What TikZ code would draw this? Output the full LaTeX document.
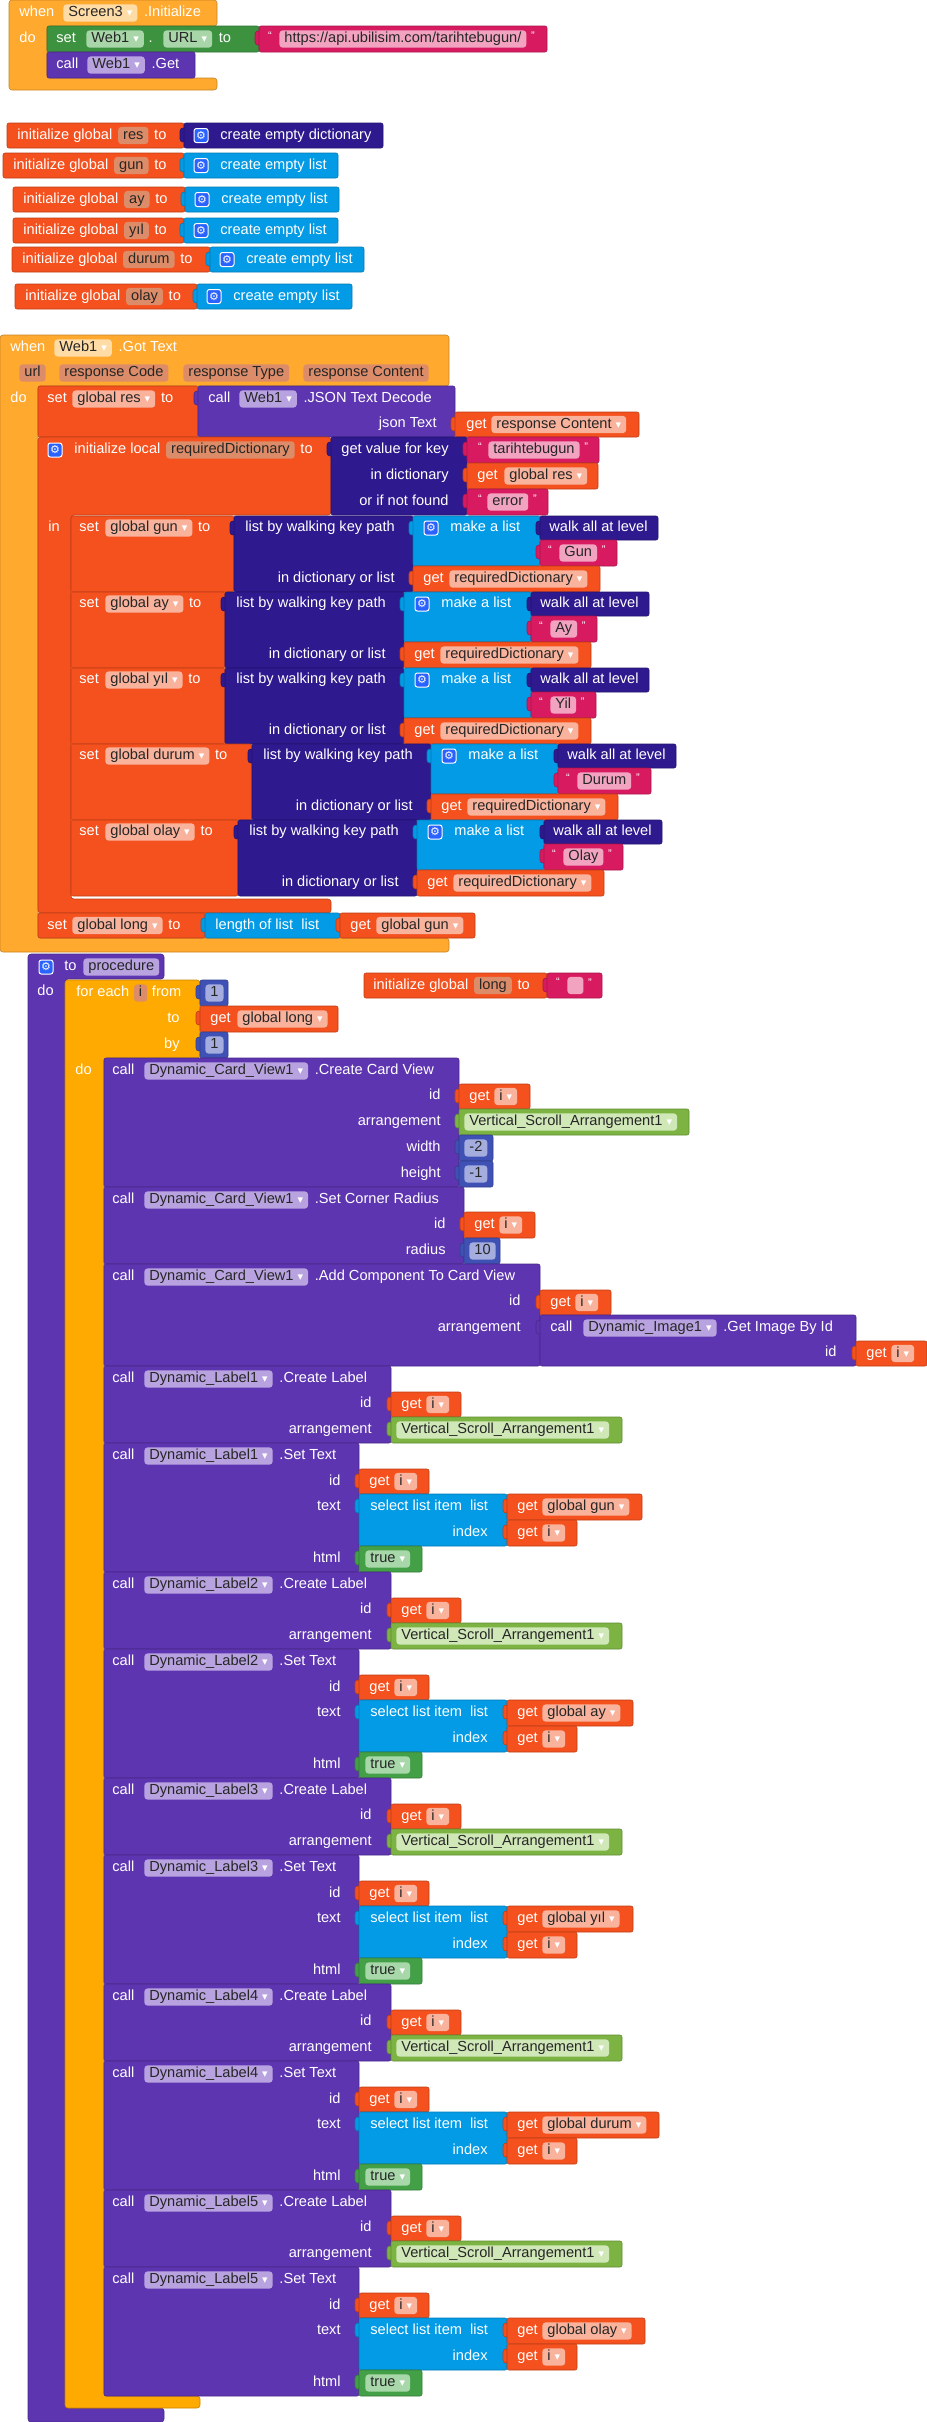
\documentclass[tikz,border=0pt]{standalone}
\usepackage{fontspec}
\setmainfont{Liberation Sans}
\newfontfamily\symf{DejaVu Sans}
\usetikzlibrary{positioning}

\definecolor{evtcol}{HTML}{FFA92E}
\definecolor{evtpil}{HTML}{FFDCA6}
\definecolor{loopcol}{HTML}{FFAA00}
\definecolor{varcol}{HTML}{F4511E}
\definecolor{varpil}{HTML}{F9B29B}
\definecolor{parpil}{HTML}{DC8C68}
\definecolor{txtcol}{HTML}{D81B60}
\definecolor{txtpil}{HTML}{F2A3C0}
\definecolor{dictcol}{HTML}{2E1A8E}
\definecolor{lstcol}{HTML}{039BE5}
\definecolor{proccol}{HTML}{5E35B1}
\definecolor{procpil}{HTML}{B8A3E0}
\definecolor{mathcol}{HTML}{3F51B5}
\definecolor{mathpil}{HTML}{A4ADDD}
\definecolor{logiccol}{HTML}{43A047}
\definecolor{logicpil}{HTML}{A8D8AA}
\definecolor{setcol}{HTML}{3D9240}
\definecolor{setpil}{HTML}{A8D6A9}
\definecolor{compcol}{HTML}{7CB342}
\definecolor{comppil}{HTML}{D0E8B8}
\definecolor{gearblue}{HTML}{2962FF}

\newcommand{\blockfont}{\fontsize{7.3}{8}\selectfont}
\tikzset{
  blkline/.style={fill=#1, draw=#1!78!black, line width=0.3pt},
  wtxt/.style={text=white, inner sep=0pt, font=\blockfont, text height=5.3pt, text depth=1.5pt},
  pill/.style={fill=#1, text=black!85, rounded corners=1.6pt, inner xsep=2.5pt, inner ysep=0pt,
    minimum height=8.6pt, text height=5.3pt, text depth=1.5pt, font=\blockfont},
  gearbox/.style={fill=gearblue, draw=white, line width=0.5pt, rounded corners=1.2pt, minimum size=7pt,
    inner sep=0pt, text=white, font=\symf\fontsize{5.5}{5.5}\selectfont},
  qt/.style={text=white, inner sep=0pt, font=\fontsize{5.5}{5}\selectfont},
}
% blocks
\newcommand{\blk}[5]{\filldraw[blkline=#1, rounded corners=1pt] (#2,#3) rectangle (#4,#5);}
\newcommand{\val}[5]{\filldraw[blkline=#1, rounded corners=1.5pt] (#2-4,#3+5) rectangle (#2+2,#3+19);
  \blk{#1}{#2}{#3}{#4}{#5}}
\newcommand{\cblk}[8]{\filldraw[blkline=#1, rounded corners=1.5pt] (#2,#3) -- (#4,#3) -- (#4,#5) -- (#6,#5)
  -- (#6,#7) -- (#4,#7) -- (#4,#8) -- (#2,#8) -- cycle;}
% texts
\newcommand{\lbl}[4]{\node[wtxt, anchor=west] (#1) at (#2,#3) {#4};}
\newcommand{\lbr}[4]{\node[wtxt, anchor=east] (#1) at (#2,#3) {#4};}
\newcommand{\pil}[5]{\node[pill=#2, anchor=west] (#1) at (#3,#4) {#5};}
\newcommand{\ddn}{\hspace{2pt}\textcolor{white}{\symf\fontsize{5.5}{5}\selectfont ▾}}
% initialize global
\newcommand{\glob}[8]{%
  \blk{varcol}{#2}{#3}{#4}{#3+25}
  \lbl{g#1}{#2+10}{#3+12.5}{initialize global}
  \node[pill=parpil, right=2.5pt of g#1] (g#1n) {#5};
  \node[wtxt, right=2.5pt of g#1n] (g#1t) {to};
  \val{#7}{#4}{#3}{#6}{#3+25}
  \node[gearbox] (g#1g) at (#4+17,#3+12.5) {⚙};
  \lbl{g#1c}{#4+36}{#3+12.5}{#8}}

\begin{document}
\begin{tikzpicture}[x=0.5pt, y=-0.5pt]
\useasboundingbox (0,0) rectangle (927,2422);

% when Screen3.Initialize
\cblk{evtcol}{9}{0}{217}{26}{47}{78}{90}
\lbl{w1}{19}{13}{when}
\pil{w1s}{evtpil}{63}{13}{Screen3\ddn}
\node[wtxt, right=3pt of w1s] (w1i) {.Initialize};
\lbl{w1do}{19}{39}{do}
\blk{setcol}{47}{26}{259}{52}
\lbl{s1}{56}{39}{set}
\pil{s1w}{setpil}{86}{39}{Web1\ddn}
\node[wtxt, right=2pt of s1w] (s1d) {.};
\pil{s1u}{setpil}{163}{39}{URL\ddn}
\node[wtxt, right=3pt of s1u] (s1to) {to};
\val{txtcol}{259}{26}{547}{52}
\node[qt] (q1a) at (270,36) {“};
\pil{s1url}{txtpil}{279}{39}{https://api.ubilisim.com/tarihtebugun/}
\node[qt, right=2pt of s1url, yshift=1.5pt] (q1b) {”};
\blk{proccol}{47}{52}{195}{78}
\lbl{c1}{56}{65}{call}
\pil{c1w}{procpil}{87}{65}{Web1\ddn}
\node[wtxt, right=3pt of c1w] (c1g) {.Get};

% globals
\glob{1}{7}{123}{184}{res}{383}{dictcol}{create empty dictionary}
\glob{2}{3}{153}{184}{gun}{338}{lstcol}{create empty list}
\glob{3}{13}{187}{185}{ay}{339}{lstcol}{create empty list}
\glob{4}{13}{218}{184}{yıl}{338}{lstcol}{create empty list}
\glob{5}{12}{247}{210}{durum}{364}{lstcol}{create empty list}
\glob{6}{15}{284}{197}{olay}{352}{lstcol}{create empty list}

% when Web1.GotText
\cblk{evtcol}{0}{335}{449}{386}{38}{938}{952}
\lbl{w2}{10}{348}{when}
\pil{w2w}{evtpil}{54}{348}{Web1\ddn}
\node[wtxt, right=3pt of w2w] (w2g) {.Got Text};
\pil{pa1}{parpil}{19}{373}{url}
\pil{pa2}{parpil}{59}{373}{response Code}
\pil{pa3}{parpil}{183}{373}{response Type}
\pil{pa4}{parpil}{303}{373}{response Content}
\lbl{w2do}{10}{399}{do}
\blk{varcol}{38}{386}{198}{437}
\lbl{sr}{47}{399}{set}
\pil{srv}{varpil}{72}{399}{global res\ddn}
\node[wtxt, right=2.5pt of srv] (srt) {to};
\val{proccol}{198}{386}{455}{437}
\lbl{jc}{208}{399}{call}
\pil{jcw}{procpil}{239}{399}{Web1\ddn}
\node[wtxt, right=3pt of jcw] (jcd) {.JSON Text Decode};
\lbr{jct}{437}{424}{json Text}
\val{varcol}{455}{412}{639}{437}
\lbl{jg}{466}{424.5}{get}
\pil{jgv}{varpil}{491}{424.5}{response Content\ddn}
% local requiredDictionary
\cblk{varcol}{38}{437}{331}{515}{71}{899}{913}
\node[gearbox] (lg) at (55,450) {⚙};
\lbl{li}{74}{450}{initialize local}
\node[pill=parpil, right=2.5pt of li] (lin) {requiredDictionary};
\node[wtxt, right=2.5pt of lin] (lit) {to};
\val{dictcol}{331}{437}{467}{515}
\lbr{gv1}{449}{450}{get value for key}
\lbr{gv2}{449}{476}{in dictionary}
\lbr{gv3}{449}{502}{or if not found}
\val{txtcol}{467}{437}{599}{463}
\node[qt] (k1a) at (480,447) {“};
\pil{k1}{txtpil}{488}{450}{tarihtebugun}
\node[qt, right=2pt of k1, yshift=1.5pt] (k1b) {”};
\val{varcol}{467}{463}{598}{489}
\lbl{gr}{477}{476}{get}
\pil{grv}{varpil}{504}{476}{global res\ddn}
\val{txtcol}{467}{489}{548}{515}
\node[qt] (k2a) at (480,499) {“};
\pil{k2}{txtpil}{487}{502}{error}
\node[qt, right=2pt of k2, yshift=1.5pt] (k2b) {”};
\lbl{lin2}{48}{528}{in}
% set global ... to list by walking key path
\foreach \k/\v/\w/\y/\a/\t in {1/gun/Gun/516/234/617, 2/ay/Ay/592/225/597, 3/yıl/Yil/668/225/596,
    4/durum/Durum/744/252/651, 5/olay/Olay/820/238/623}{
  \blk{varcol}{71}{\y}{\a}{\y+76}
  \lbl{ws\k}{79}{\y+12}{set}
  \pil{wv\k}{varpil}{105}{\y+12}{global \v\ddn}
  \node[wtxt, right=2.5pt of wv\k] (wt\k) {to};
  \val{dictcol}{\a}{\y}{\a+179}{\y+76}
  \lbl{wp\k}{\a+11}{\y+12}{list by walking key path}
  \lbr{wd\k}{\a+161}{\y+63}{in dictionary or list}
  \val{lstcol}{\a+179}{\y}{\a+306}{\y+50}
  \node[gearbox] (wg\k) at (\a+197,\y+12) {⚙};
  \lbl{wm\k}{\a+216}{\y+12}{make a list}
  \val{dictcol}{\a+306}{\y}{\a+424}{\y+24}
  \lbl{wa\k}{\a+315}{\y+12}{walk all at level}
  \val{txtcol}{\a+306}{\y+24}{\t}{\y+50}
  \node[qt] (wq\k) at (\a+316,\y+34) {“};
  \pil{wk\k}{txtpil}{\a+325}{\y+37}{\w}
  \node[qt, right=2pt of wk\k, yshift=1.5pt] (wz\k) {”};
  \val{varcol}{\a+179}{\y+50}{\a+366}{\y+76}
  \lbl{wx\k}{\a+189}{\y+63}{get}
  \pil{wy\k}{varpil}{\a+215}{\y+63}{requiredDictionary\ddn}
}
% set global long
\blk{varcol}{38}{913}{205}{938}
\lbl{sl}{47}{925.5}{set}
\pil{slv}{varpil}{72}{925.5}{global long\ddn}
\node[wtxt, right=2.5pt of slv] (slt) {to};
\val{lstcol}{205}{913}{340}{938}
\lbl{ll}{215}{925.5}{length of list\ \ list}
\val{varcol}{340}{913}{475}{938}
\lbl{lgg}{350}{925.5}{get}
\pil{lgv}{varpil}{376}{925.5}{global gun\ddn}

% to procedure
\cblk{proccol}{28}{954}{164}{979}{65}{2408}{2422}
\node[gearbox] (pg) at (46,967) {⚙};
\lbl{pt}{64}{967}{to}
\pil{pn}{procpil}{83}{967}{procedure}
\lbl{pdo}{37}{992}{do}
% for each i
\cblk{loopcol}{65}{980}{200}{1058}{104}{2396}{2408}
\lbl{fe}{76}{993}{for each}
\node[pill=parpil, right=2pt of fe] (fei) {i};
\node[wtxt, right=2pt of fei] (fef) {from};
\lbr{fet}{180}{1019}{to}
\lbr{feb}{180}{1045}{by}
\val{mathcol}{200}{980}{228}{1006}
\pil{n1}{mathpil}{205}{993}{1}
\val{varcol}{200}{1006}{338}{1032}
\lbl{fg}{210}{1019}{get}
\pil{fgv}{varpil}{237}{1019}{global long\ddn}
\val{mathcol}{200}{1032}{228}{1058}
\pil{n2}{mathpil}{205}{1045}{1}
\lbl{fdo}{75}{1071}{do}
% initialize global long
\blk{varcol}{364}{973}{547}{998}
\lbl{il}{373}{985.5}{initialize global}
\node[pill=parpil, right=2.5pt of il] (iln) {long};
\node[wtxt, right=2.5pt of iln] (ilt) {to};
\val{txtcol}{547}{973}{602}{998}
\node[qt] (iq1) at (558,982) {“};
\node[pill=txtpil, minimum width=8pt, anchor=west] (ile) at (567,985.5) {};
\node[qt, right=2pt of ile, yshift=1.5pt] (iq2) {”};

% card view
\blk{proccol}{104}{1058}{459}{1187}
\lbl{cv}{112}{1071}{call}
\pil{cvn}{procpil}{144}{1071}{Dynamic\_Card\_View1\ddn}
\node[wtxt, right=3pt of cvn] (cvm) {.Create Card View};
\lbr{cva}{441}{1096}{id}
\lbr{cvb}{441}{1122}{arrangement}
\lbr{cvc}{441}{1148}{width}
\lbr{cvd}{441}{1174}{height}
\val{varcol}{459}{1084}{530}{1109}
\lbl{cvg}{469}{1096.5}{get}
\pil{cvi}{varpil}{494}{1096.5}{i\ddn}
\val{compcol}{459}{1109}{689}{1135}
\pil{cvv}{comppil}{464}{1122}{Vertical\_Scroll\_Arrangement1\ddn}
\val{mathcol}{459}{1135}{493}{1161}
\pil{cvw}{mathpil}{464}{1148}{-2}
\val{mathcol}{459}{1161}{493}{1187}
\pil{cvh}{mathpil}{464}{1174}{-1}
% corner radius
\blk{proccol}{104}{1187}{464}{1264}
\lbl{cr}{112}{1200}{call}
\pil{crn}{procpil}{144}{1200}{Dynamic\_Card\_View1\ddn}
\node[wtxt, right=3pt of crn] (crm) {.Set Corner Radius};
\lbr{cra}{446}{1225}{id}
\lbr{crb}{446}{1251}{radius}
\val{varcol}{464}{1212}{535}{1238}
\lbl{crg}{474}{1225}{get}
\pil{cri}{varpil}{499}{1225}{i\ddn}
\val{mathcol}{464}{1238}{500}{1264}
\pil{crr}{mathpil}{469}{1251}{10}
% add component
\blk{proccol}{104}{1264}{540}{1366}
\lbl{ac}{112}{1277}{call}
\pil{acn}{procpil}{144}{1277}{Dynamic\_Card\_View1\ddn}
\node[wtxt, right=3pt of acn] (acm) {.Add Component To Card View};
\lbr{aca}{521}{1302}{id}
\lbr{acb}{521}{1328}{arrangement}
\val{varcol}{540}{1290}{611}{1315}
\lbl{acg}{550}{1302.5}{get}
\pil{aci}{varpil}{575}{1302.5}{i\ddn}
\val{proccol}{540}{1315}{856}{1366}
\lbl{im}{550}{1328}{call}
\pil{imn}{procpil}{583}{1328}{Dynamic\_Image1\ddn}
\node[wtxt, right=3pt of imn] (imm) {.Get Image By Id};
\lbr{ima}{837}{1353}{id}
\val{varcol}{856}{1341}{927}{1366}
\lbl{img}{866}{1353.5}{get}
\pil{imi}{varpil}{891}{1353.5}{i\ddn}

% labels
\foreach \n/\v/\r in {1/gun/642, 2/ay/633, 3/yıl/633, 4/durum/659, 5/olay/645}{
  \pgfmathsetmacro{\b}{1366+206*(\n-1)}
  \pgfmathsetmacro{\s}{\b+77}
  \blk{proccol}{104}{\b}{391}{\b+77}
  \lbl{La\n}{112}{\b+13}{call}
  \pil{Ln\n}{procpil}{144}{\b+13}{Dynamic\_Label\n\ddn}
  \node[wtxt, right=3pt of Ln\n] (Lm\n) {.Create Label};
  \lbr{Ld\n}{372}{\b+38}{id}
  \lbr{Lr\n}{372}{\b+64}{arrangement}
  \val{varcol}{391}{\b+26}{461}{\b+51}
  \lbl{Lg\n}{401}{\b+38.5}{get}
  \pil{Li\n}{varpil}{426}{\b+38.5}{i\ddn}
  \val{compcol}{391}{\b+51}{622}{\b+77}
  \pil{Lv\n}{comppil}{396}{\b+64}{Vertical\_Scroll\_Arrangement1\ddn}
  \blk{proccol}{104}{\s}{359}{\s+129}
  \lbl{Ta\n}{112}{\s+13}{call}
  \pil{Tn\n}{procpil}{144}{\s+13}{Dynamic\_Label\n\ddn}
  \node[wtxt, right=3pt of Tn\n] (Tm\n) {.Set Text};
  \lbr{Ti\n}{341}{\s+38.5}{id}
  \lbr{Tt\n}{341}{\s+64}{text}
  \lbr{Th\n}{341}{\s+116}{html}
  \val{varcol}{359}{\s+26}{429}{\s+51}
  \lbl{Tg\n}{369}{\s+38.5}{get}
  \pil{Tj\n}{varpil}{394}{\s+38.5}{i\ddn}
  \val{lstcol}{359}{\s+51}{507}{\s+103}
  \lbl{Ts\n}{370}{\s+64}{select list item\ \ list}
  \lbr{Tx\n}{488}{\s+90}{index}
  \val{varcol}{507}{\s+51}{\r}{\s+77}
  \lbl{Tq\n}{517}{\s+64}{get}
  \pil{Tv\n}{varpil}{542}{\s+64}{global \v\ddn}
  \val{varcol}{507}{\s+77}{577}{\s+103}
  \lbl{Tr\n}{517}{\s+90}{get}
  \pil{Tk\n}{varpil}{542}{\s+90}{i\ddn}
  \val{logiccol}{359}{\s+103}{422}{\s+129}
  \pil{Tb\n}{logicpil}{365}{\s+116}{true\ddn}
}
\end{tikzpicture}
\end{document}
